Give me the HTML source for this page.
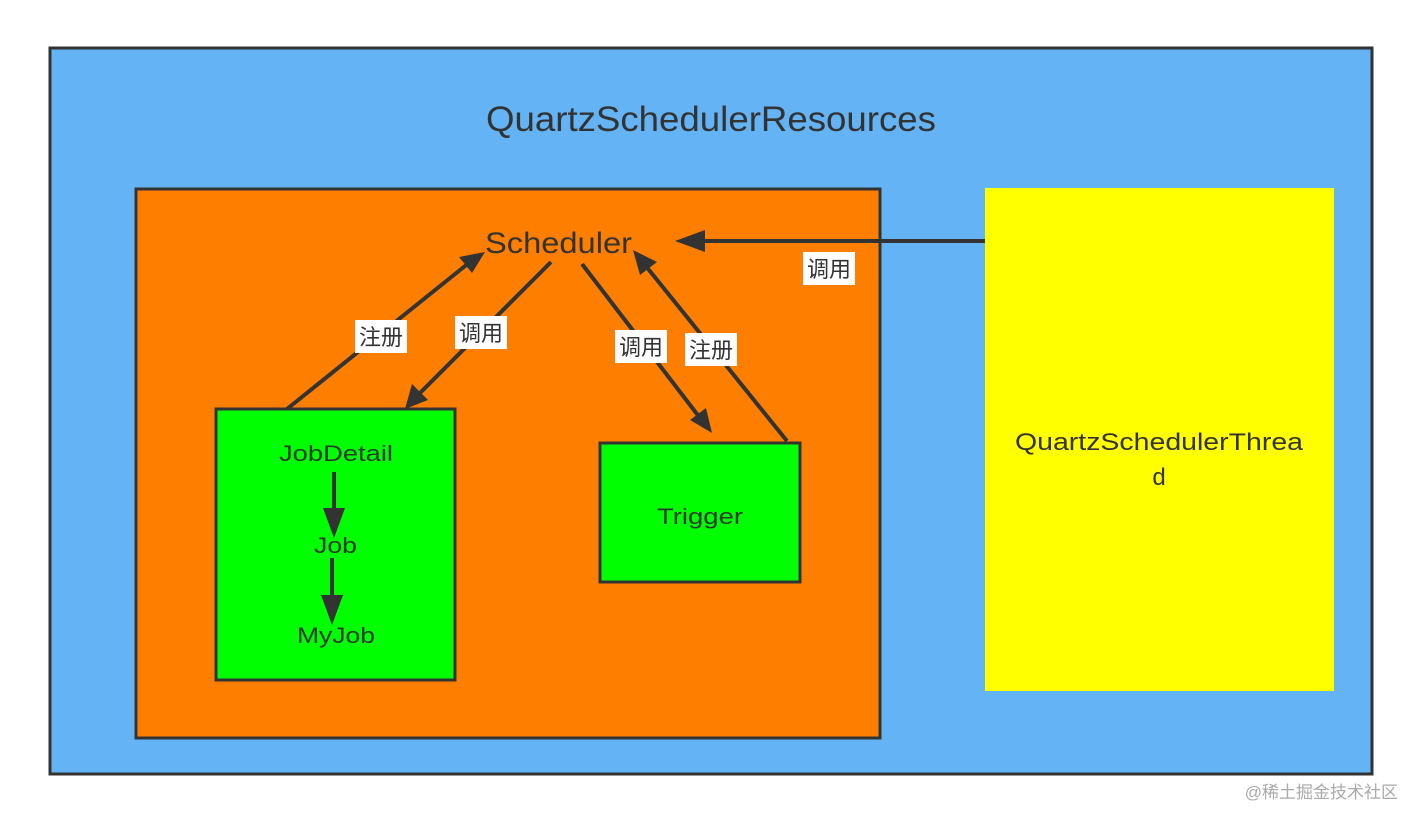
<!DOCTYPE html>
<html><head><meta charset="utf-8"><style>
html,body{margin:0;padding:0;background:#fff;}
svg{display:block;}
text{font-family:"Liberation Sans","Noto Sans CJK SC",sans-serif;}
</style></head><body>
<svg width="1422" height="824" viewBox="0 0 1422 824" xmlns="http://www.w3.org/2000/svg">
<rect x="50" y="48" width="1322" height="726" fill="#63b3f5" stroke="#333" stroke-width="3"/>
<text x="486" y="131" font-size="35" fill="#333" textLength="450" lengthAdjust="spacingAndGlyphs">QuartzSchedulerResources</text>
<rect x="136" y="189" width="744" height="549" fill="#fe7f00" stroke="#333" stroke-width="3"/>
<rect x="985" y="188" width="349" height="503" fill="#ffff00"/>
<text x="1015" y="450" font-size="24" fill="#333" textLength="288" lengthAdjust="spacingAndGlyphs">QuartzSchedulerThrea</text>
<text x="1159" y="485" font-size="24" fill="#333" text-anchor="middle">d</text>
<rect x="216" y="409" width="239" height="271" fill="#00ff00" stroke="#333" stroke-width="3"/>
<rect x="600" y="443" width="200" height="139" fill="#00ff00" stroke="#333" stroke-width="3"/>
<text x="485" y="253" font-size="30" fill="#333" textLength="147" lengthAdjust="spacingAndGlyphs">Scheduler</text>
<text x="279" y="461" font-size="22" fill="#2a3a2a" textLength="114" lengthAdjust="spacingAndGlyphs">JobDetail</text>
<text x="314" y="553" font-size="22" fill="#2a3a2a" textLength="43" lengthAdjust="spacingAndGlyphs">Job</text>
<text x="297" y="643" font-size="22" fill="#2a3a2a" textLength="78" lengthAdjust="spacingAndGlyphs">MyJob</text>
<text x="657" y="524" font-size="22" fill="#2a3a2a" textLength="86" lengthAdjust="spacingAndGlyphs">Trigger</text>
<g stroke="#333" stroke-width="4" fill="none">
<line x1="287" y1="409" x2="470" y2="262"/>
<line x1="551" y1="262" x2="418" y2="395"/>
<line x1="582" y1="264" x2="700" y2="418"/>
<line x1="787" y1="441" x2="645" y2="265"/>
<line x1="985" y1="241" x2="700" y2="241"/>
<line x1="334" y1="472" x2="334" y2="510"/>
<line x1="332" y1="558" x2="332" y2="598"/>
</g>
<g fill="#333">
<polygon points="485,252 459,257 472,273"/>
<polygon points="405,409 412,384 428,400"/>
<polygon points="712,433 690,420 706,408"/>
<polygon points="633,250 640,275 657,262"/>
<polygon points="675,241 705,230 705,252"/>
<polygon points="334,538 323,508 345,508"/>
<polygon points="332,625 321,595 343,595"/>
</g>
<g font-size="22" fill="#333" text-anchor="middle">
<rect x="355" y="320" width="52" height="33" fill="#fff"/><text x="381" y="345">注册</text>
<rect x="455" y="316" width="52" height="33" fill="#fff"/><text x="481" y="341">调用</text>
<rect x="615" y="330" width="52" height="33" fill="#fff"/><text x="641" y="355">调用</text>
<rect x="685" y="333" width="52" height="33" fill="#fff"/><text x="711" y="358">注册</text>
<rect x="803" y="252" width="52" height="33" fill="#fff"/><text x="829" y="277">调用</text>
</g>
<text x="1398" y="798" font-size="17" fill="#aaa" text-anchor="end">@稀土掘金技术社区</text>
</svg>
</body></html>
